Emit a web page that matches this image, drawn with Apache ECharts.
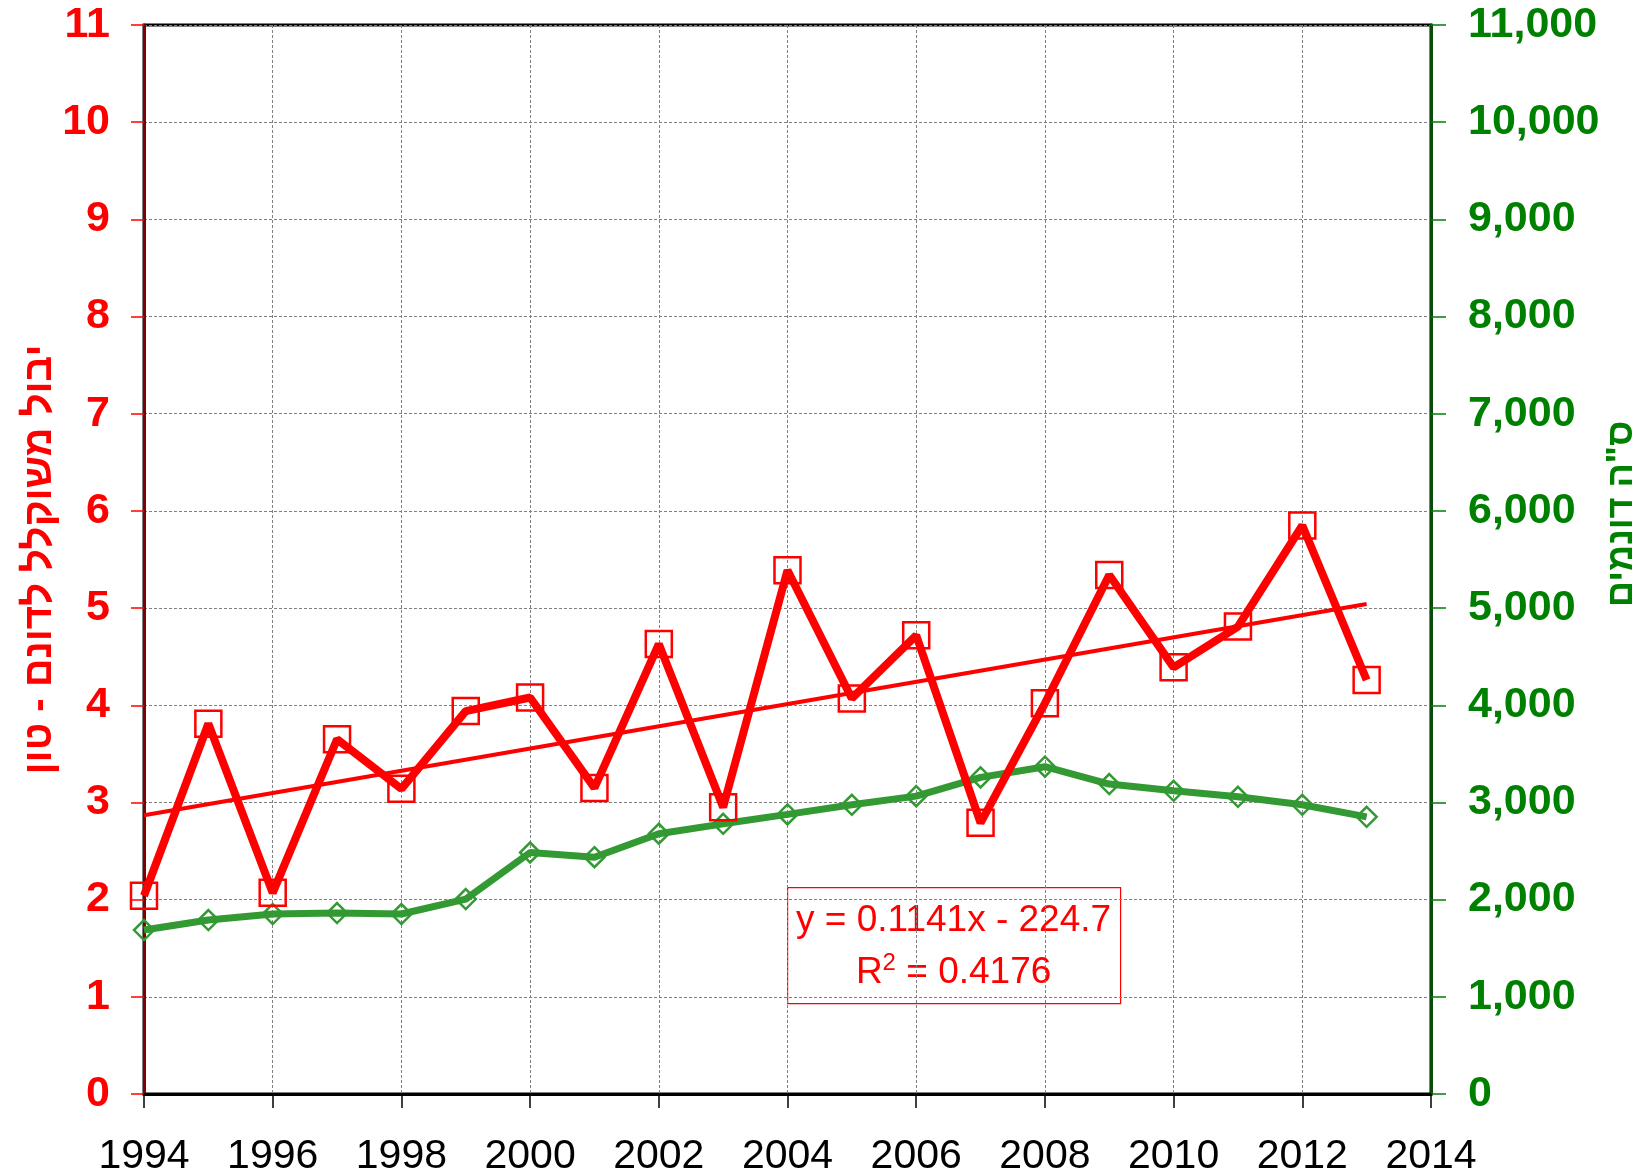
<!DOCTYPE html>
<html>
<head>
<meta charset="utf-8">
<script src="https://cdn.jsdelivr.net/npm/echarts@6/dist/echarts.min.js"></script>
<style>
  html, body { margin: 0; padding: 0; background: #fff; }
  #main { width: 1638px; height: 1174px; }
</style>
</head>
<body>
<div id="main"></div>
<script>
// data
var years = [1994, 1995, 1996, 1997, 1998, 1999, 2000, 2001, 2002, 2003,
             2004, 2005, 2006, 2007, 2008, 2009, 2010, 2011, 2012, 2013];
// weighted yield per dunam, tons (left axis)
var yieldTon = [2.04, 3.81, 2.07, 3.65, 3.14, 3.94, 4.08, 3.15, 4.63, 2.95,
                5.39, 4.07, 4.72, 2.79, 4.02, 5.34, 4.39, 4.81, 5.85, 4.26];
// total dunams (right axis)
var areaDunam = [1687, 1790, 1852, 1862, 1852, 2006, 2485, 2437, 2678, 2780,
                 2877, 2976, 3065, 3258, 3368, 3189, 3120, 3058, 2976, 2852];
var trendText = ['y = 0.1141x - 224.7', '{t|R}{s|2}{t| = 0.4176}'];
var leftName = 'יבול משוקלל לדונם - טון';
var rightName = 'ס"ה דונמים';

var FONT = '"Liberation Sans", Arial, sans-serif';

// linear trend of the yield (least squares)
function linFit(xs, ys) {
  var n = xs.length, sx = 0, sy = 0, sxx = 0, sxy = 0;
  for (var i = 0; i < n; i++) {
    sx += xs[i]; sy += ys[i]; sxx += xs[i] * xs[i]; sxy += xs[i] * ys[i];
  }
  var b = (n * sxy - sx * sy) / (n * sxx - sx * sx);
  return { b: b, a: (sy - b * sx) / n };
}
var fit = linFit(years, yieldTon);
var first = years[0], last = years[years.length - 1];
var trendData = [[first, fit.a + fit.b * first], [last, fit.a + fit.b * last]];

function pairs(ys) {
  return years.map(function (y, i) { return [y, ys[i]]; });
}

var gridLine = { show: true, lineStyle: { color: '#808080', width: 1, type: [3, 2] } };

var myChart = echarts.init(document.getElementById('main'));
var option = {
  animation: false,
  backgroundColor: '#fff',
  grid: {
    left: 144, right: 207, top: 25, bottom: 80,
    outerBoundsMode: 'none', containLabel: false,
    show: true, borderColor: '#000', borderWidth: 3
  },
  xAxis: {
    type: 'value', min: 1994, max: 2014, interval: 2,
    axisLine: { show: true, onZero: false, lineStyle: { color: '#000', width: 3 } },
    axisTick: { show: true, length: 14, lineStyle: { color: '#000', width: 1.5 } },
    axisLabel: {
      fontSize: 41, color: '#000', fontFamily: FONT, margin: 42,
      formatter: function (v) { return String(v); }
    },
    splitLine: gridLine
  },
  yAxis: [
    {
      type: 'value', position: 'left', min: 0, max: 11, interval: 1,
      name: leftName, nameLocation: 'middle', nameRotate: 90, nameGap: 84,
      nameMoveOverlap: false,
      nameTextStyle: { color: '#ff0000', fontSize: 40, fontWeight: 'bold', fontFamily: FONT },
      axisLine: { show: true, lineStyle: { color: '#800000', width: 3 } },
      axisTick: { show: true, length: 13, lineStyle: { color: '#ff0000', width: 1.5 } },
      axisLabel: { fontSize: 43, color: '#ff0000', fontWeight: 'bold', fontFamily: FONT, margin: 34 },
      splitLine: gridLine
    },
    {
      type: 'value', position: 'right', min: 0, max: 11000, interval: 1000,
      name: rightName, nameLocation: 'middle', nameRotate: 90, nameGap: 173,
      nameMoveOverlap: false,
      nameTextStyle: {
        color: '#008000', fontSize: 36, fontWeight: 'bold', fontFamily: FONT,
        padding: [0, 0, 0, 91]
      },
      axisLine: { show: true, lineStyle: { color: '#0a4a0a', width: 3 } },
      axisTick: { show: true, length: 15, lineStyle: { color: '#008000', width: 1.5 } },
      axisLabel: {
        fontSize: 43, color: '#008000', fontWeight: 'bold', fontFamily: FONT, margin: 37,
        formatter: function (v) { return v.toLocaleString('en-US'); }
      },
      splitLine: { show: false }
    }
  ],
  series: [
    {
      name: 'area', type: 'line', yAxisIndex: 1, z: 2,
      data: pairs(areaDunam),
      symbol: 'diamond', symbolSize: 20,
      lineStyle: { color: '#339933', width: 7 },
      itemStyle: { color: 'rgba(0,0,0,0)', borderColor: '#339933', borderWidth: 2.5 }
    },
    {
      name: 'trend', type: 'line', yAxisIndex: 0, z: 3,
      data: trendData, symbol: 'none',
      lineStyle: { color: '#ff0000', width: 4 }
    },
    {
      name: 'yield', type: 'line', yAxisIndex: 0, z: 4,
      data: pairs(yieldTon),
      symbol: 'rect', symbolSize: 26,
      lineStyle: { color: '#ff0000', width: 8 },
      itemStyle: { color: 'rgba(0,0,0,0)', borderColor: '#ff0000', borderWidth: 2.5 }
    }
  ],
  graphic: [
    {
      type: 'group', left: 787, top: 887, z: 100,
      children: [
        {
          type: 'rect', shape: { x: 0, y: 0, width: 333, height: 116 },
          style: { fill: '#fff', stroke: '#ff0000', lineWidth: 1.2 }
        },
        {
          type: 'text', x: 166, y: 33,
          style: {
            text: trendText[0], fill: '#ff0000', font: '37px ' + FONT,
            textAlign: 'center', textVerticalAlign: 'middle'
          }
        },
        {
          type: 'text', x: 166, y: 84,
          style: {
            text: trendText[1], fill: '#ff0000',
            textAlign: 'center', textVerticalAlign: 'middle',
            rich: {
              t: { fontSize: 37, fontFamily: FONT, fill: '#ff0000', lineHeight: 40, verticalAlign: 'bottom' },
              s: { fontSize: 24, fontFamily: FONT, fill: '#ff0000', lineHeight: 40, verticalAlign: 'top', padding: [0, 0, 14, 0] }
            }
          }
        }
      ]
    }
  ]
};
myChart.setOption(option);
</script>
</body>
</html>
